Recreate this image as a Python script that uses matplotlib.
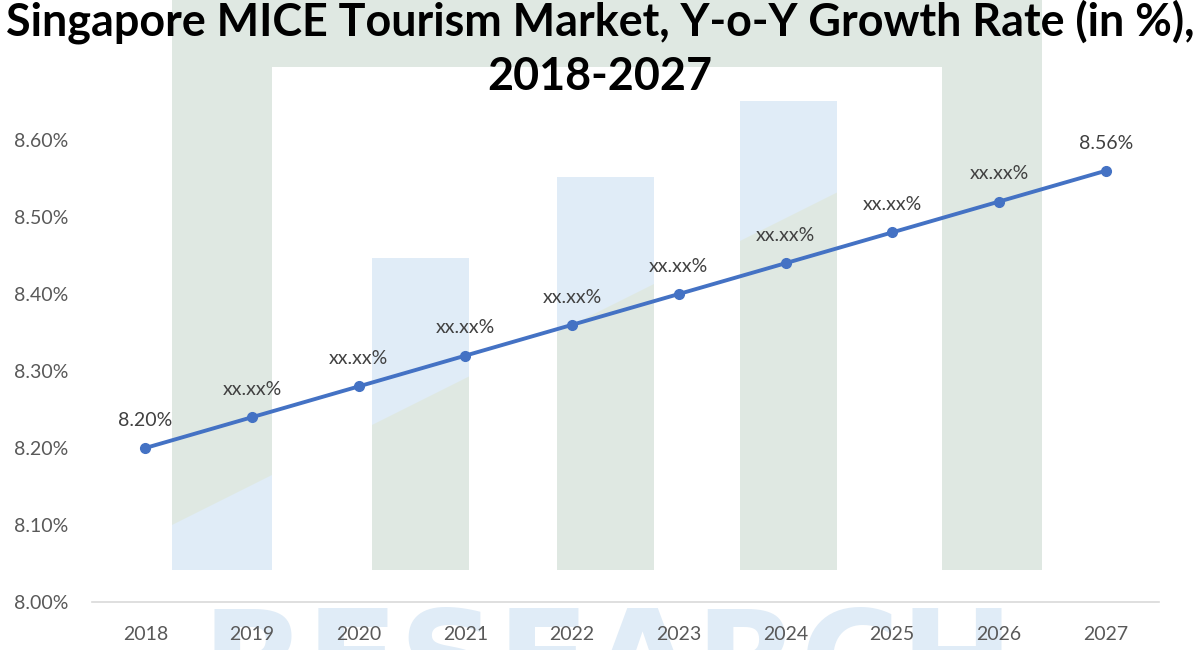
import numpy as np
import matplotlib
matplotlib.use("Agg")
from matplotlib import pyplot as plt
from matplotlib.patches import Rectangle, Polygon

# chart data
years = ["2018", "2019", "2020", "2021", "2022", "2023", "2024", "2025", "2026", "2027"]
growth = [8.20, 8.24, 8.28, 8.32, 8.36, 8.40, 8.44, 8.48, 8.52, 8.56]
point_labels = ["8.20%", "xx.xx%", "xx.xx%", "xx.xx%", "xx.xx%",
                "xx.xx%", "xx.xx%", "xx.xx%", "xx.xx%", "8.56%"]
y_ticks = [8.00, 8.10, 8.20, 8.30, 8.40, 8.50, 8.60]

title_lines = ["Singapore MICE Tourism Market, Y-o-Y Growth Rate (in %),", "2018-2027"]

plt.rcParams['font.family'] = ['Lato', 'DejaVu Sans']

fig = plt.figure(figsize=(12, 6.5), dpi=100)

# faint logo watermark behind the chart (pixel coords of the figure)
bg = fig.add_axes([0, 0, 1, 1], zorder=0)
bg.set_xlim(0, 1200)
bg.set_ylim(650, 0)
bg.axis("off")
green = "#dfe8e2"
blue = "#e0ecf7"
bg.add_patch(Rectangle((172, 0), 870, 67, color=green, lw=0))
bg.add_patch(Rectangle((172, 67), 100, 503, color=green, lw=0))
bg.add_patch(Rectangle((942, 67), 100, 503, color=green, lw=0))
bg.add_patch(Polygon([(172, 525), (272, 475), (272, 570), (172, 570)], color=blue, lw=0))
for x0, top in [(372, 258), (557, 177), (740, 101)]:
    bg.add_patch(Rectangle((x0, top), 97, 570 - top, color=green, lw=0))
    ya = 525 - (x0 - 172) * 0.5
    yb = 525 - (x0 + 97 - 172) * 0.5
    bg.add_patch(Polygon([(x0, top), (x0 + 97, top), (x0 + 97, yb), (x0, ya)], color=blue, lw=0))
bg.text(608, 604, "RESEARCH", color=blue, fontsize=98, fontweight="bold",
        family="DejaVu Sans", ha="center", va="top")

ax = fig.add_axes([92 / 1200, 48 / 650, (1159 - 92) / 1200, (602 - 101.5) / 650], zorder=1)
ax.patch.set_visible(False)

x = np.arange(len(years))
ax.plot(x, growth, color="#4472C4", lw=2.8, marker="o", markersize=7, zorder=3)
for xi, yi, lab in zip(x, growth, point_labels):
    ax.annotate(lab, (xi, yi), xytext=(0, 20), textcoords="offset points",
                ha="center", va="center", fontsize=14, color="#404040")

ax.set_xlim(-0.5, len(years) - 0.5)
ax.set_ylim(8.0, 8.65)
ax.set_xticks(x)
ax.set_xticklabels(years)
ax.set_yticks(y_ticks)
ax.set_yticklabels(["%.2f%%" % v for v in y_ticks])
ax.tick_params(length=0, labelsize=14, labelcolor="#595959")
ax.tick_params(axis="x", pad=17)
ax.tick_params(axis="y", pad=17)
for side in ["top", "right", "left"]:
    ax.spines[side].set_visible(False)
ax.spines["bottom"].set_color("#d9d9d9")
ax.spines["bottom"].set_linewidth(1.2)

# title: two lines, the first one sits right at the top edge
for line, ypix in zip(title_lines, [22, 77]):
    fig.text(0.5, 1 - ypix / 650, line, ha="center", va="center", fontsize=32.3,
             fontweight="bold", color="#000000")

fig.savefig("out.png", dpi=100)
